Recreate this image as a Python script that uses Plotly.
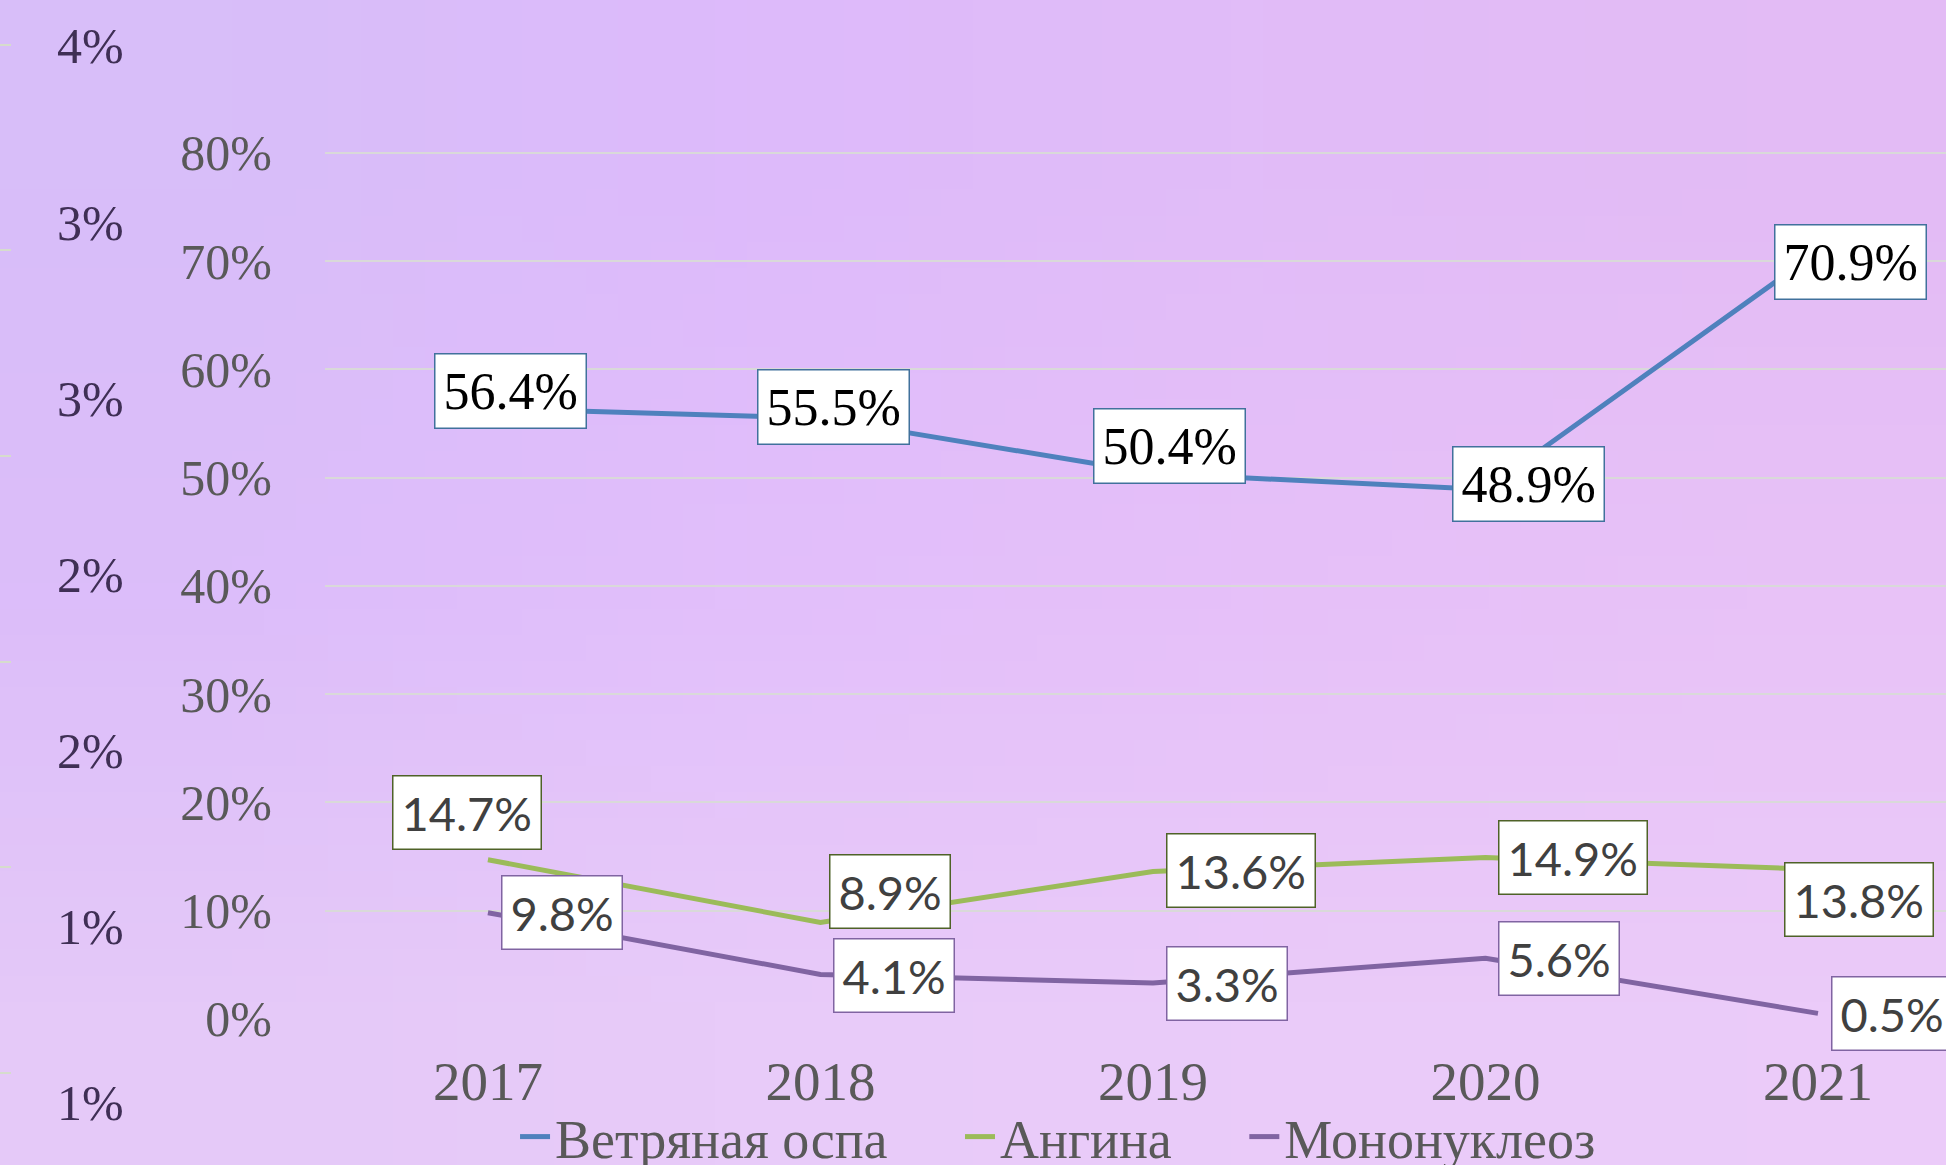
import base64
import struct
import zlib

import plotly.graph_objects as go

# ---------------- data ----------------
years = [2017, 2018, 2019, 2020, 2021]
year_labels = ["2017", "2018", "2019", "2020", "2021"]
chickenpox = [56.4, 55.5, 50.4, 48.9, 70.9]
angina = [14.7, 8.9, 13.6, 14.9, 13.8]
mono = [9.8, 4.1, 3.3, 5.6, 0.5]
series_names = ["Ветряная оспа", "Ангина", "Мононуклеоз"]

main_tick_vals = [0, 10, 20, 30, 40, 50, 60, 70, 80]
main_tick_text = ["0%", "10%", "20%", "30%", "40%", "50%", "60%", "70%", "80%"]

left_tick_vals = [4.0, 3.5, 3.0, 2.5, 2.0, 1.5, 1.0]
left_tick_text = ["4%", "3%", "3%", "2%", "2%", "1%", "1%"]
left_mark_vals = [5, 4, 3, 2, 1, 0]

# ---------------- style ----------------
W, H = 1946, 1165
SERIF = "Liberation Serif, Times New Roman, serif"
SANS = "Lato, Open Sans, sans-serif"
GRAY = "#595959"

colors = ["#4f81bd", "#9bbb59", "#8064a2"]
box_borders = ["#41719c", "#4f6228", "#8064a2"]
label_fonts = [
    dict(family=SERIF, size=52, color="#000000"),
    dict(family=SANS, size=47, color="#404040"),
    dict(family=SANS, size=47, color="#404040"),
]
# label box offsets (px, right / up) relative to each point
label_offsets = [
    [(23, 17), (13, 11), (17, 27), (43, 6), (33, -11)],
    [(-21, 47), (70, 31), (88, 1), (88, 0), (41, -30)],
    [(74, 0), (74, -1), (74, 0), (74, 0), (74, 0)],
]
legend_pad = ["\u00a0" * 5, "\u00a0" * 5, ""]


def png_data_uri(rows):
    h = len(rows)
    w = len(rows[0])
    raw = b"".join(b"\x00" + bytes(c for px in row for c in px) for row in rows)

    def chunk(t, d):
        c = struct.pack(">I", len(d)) + t + d
        return c + struct.pack(">I", zlib.crc32(t + d) & 0xFFFFFFFF)

    png = (b"\x89PNG\r\n\x1a\n"
           + chunk(b"IHDR", struct.pack(">IIBBBBB", w, h, 8, 2, 0, 0, 0))
           + chunk(b"IDAT", zlib.compress(raw))
           + chunk(b"IEND", b""))
    return "data:image/png;base64," + base64.b64encode(png).decode()


def hx(s):
    s = s.lstrip("#")
    return tuple(int(s[i:i + 2], 16) for i in (0, 2, 4))


bg_rows = [
    [hx("#d8bef9"), hx("#ddbafb"), hx("#e1bcf8"), hx("#e3bbf5")],
    [hx("#dcbdfa"), hx("#e2bffb"), hx("#e6c0f9"), hx("#e8c2f7")],
    [hx("#e5c9f8"), hx("#e8cbf9"), hx("#eacbf9"), hx("#ebcbf9")],
]

fig = go.Figure()

for name, vals, col, pad in zip(series_names, [chickenpox, angina, mono], colors, legend_pad):
    fig.add_trace(go.Scatter(
        x=years, y=vals, name=name + pad, mode="lines",
        line=dict(color=col, width=5),
        xaxis="x", yaxis="y",
    ))

# dummy traces so the decorative left axes get drawn
fig.add_trace(go.Scatter(x=[None], y=[None], xaxis="x2", yaxis="y3", showlegend=False, hoverinfo="skip"))
fig.add_trace(go.Scatter(x=[None], y=[None], xaxis="x2", yaxis="y4", showlegend=False, hoverinfo="skip"))

annotations = []
for si, vals in enumerate([chickenpox, angina, mono]):
    for i, (yr, v) in enumerate(zip(years, vals)):
        dx, dy = label_offsets[si][i]
        annotations.append(dict(
            x=yr, y=v, xref="x", yref="y",
            text=f"{v:.1f}%", showarrow=False,
            xanchor="center", yanchor="middle",
            xshift=dx, yshift=dy,
            font=label_fonts[si],
            bgcolor="#ffffff", bordercolor=box_borders[si],
            borderwidth=1.5, borderpad=8,
        ))

plot_left = 325 / W
axis_bottom = (H - 1019) / H
px_per_pct = 10.825
y_top = 1019 / px_per_pct

fig.update_layout(
    width=W, height=H,
    margin=dict(l=0, r=0, t=0, b=0, autoexpand=False),
    paper_bgcolor="#e2c2f8",
    plot_bgcolor="rgba(0,0,0,0)",
    images=[dict(
        source=png_data_uri(bg_rows), xref="paper", yref="paper",
        x=-0.03, y=1.04, sizex=1.06, sizey=1.08, sizing="stretch",
        xanchor="left", yanchor="top", layer="below",
    )],
    xaxis=dict(
        domain=[plot_left, 1], anchor="y",
        range=[2016.51, 2021.385],
        tickvals=years, ticktext=year_labels,
        showgrid=False, zeroline=False, showline=False, ticks="",
        tickfont=dict(family=SERIF, size=55, color=GRAY),
        ticklabelstandoff=25,
    ),
    yaxis=dict(
        domain=[axis_bottom, 1], anchor="x",
        range=[-0.02, y_top],
        tickvals=main_tick_vals, ticktext=main_tick_text,
        showgrid=True, gridcolor="#d9d9d9", gridwidth=1.5,
        zeroline=False, showline=False, ticks="",
        tickfont=dict(family=SERIF, size=50, color=GRAY),
        ticklabelstandoff=52,
    ),
    xaxis2=dict(domain=[0, 1], range=[0, 1], visible=False, anchor="y3"),
    yaxis3=dict(
        domain=[0, 1], anchor="x2", side="left",
        range=[-0.447, 5.217],
        tickvals=left_mark_vals, showticklabels=False,
        ticks="inside", ticklen=11, tickwidth=1.5, tickcolor="#d6dccd",
        showgrid=False, zeroline=False, showline=False,
    ),
    yaxis4=dict(
        domain=[0, 1], anchor="x2", side="left",
        range=[0.824, 4.130],
        tickvals=left_tick_vals, ticktext=left_tick_text,
        ticklabelposition="inside", ticks="",
        tickfont=dict(family=SERIF, size=50, color="#3f2f55"),
        ticklabelstandoff=54,
        showgrid=False, zeroline=False, showline=False,
    ),
    legend=dict(
        orientation="h", x=0.5437, xanchor="center",
        y=(H - 1137) / H, yanchor="middle",
        bgcolor="rgba(0,0,0,0)",
        font=dict(family=SERIF, size=54, color=GRAY),
        itemwidth=30, traceorder="normal",
    ),
    annotations=annotations,
    showlegend=True,
)

fig.write_html(
    "out.html",
    config={"displayModeBar": False},
    post_script="document.body.style.margin='0';document.body.style.overflow='hidden';",
)
